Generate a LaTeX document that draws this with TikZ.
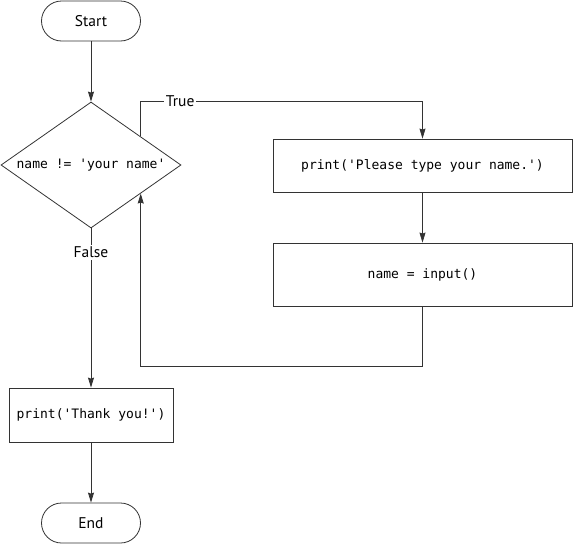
\documentclass[tikz,border=0pt]{standalone}
\usepackage{fontspec}
\setsansfont{PT Sans}
\setmonofont{DejaVu Sans Mono}
\usetikzlibrary{arrows.meta,shapes,calc}

\begin{document}
\begin{tikzpicture}[x=1pt,y=-1pt,>={Stealth[length=10pt,width=6pt,inset=1pt]},line width=0.8pt,draw=black!80,
  terminal/.style={rectangle,rounded corners=20pt,draw=black!80,minimum width=99pt,minimum height=40pt,font=\sffamily\fontsize{15.5}{17}\selectfont},
  decision/.style={diamond,aspect=1.43,draw=black!80,inner sep=0pt,minimum width=180pt,minimum height=126pt,font=\ttfamily\fontsize{13}{15}\selectfont},
  process/.style={rectangle,draw=black!80,font=\ttfamily\fontsize{13}{15}\selectfont},
  tag/.style={fill=white,text=black,inner sep=2pt,font=\sffamily\fontsize{15.5}{17}\selectfont}]
  \useasboundingbox (0,0) rectangle (573,544);
  \node[terminal] (start) at (91, 21) {Start};
  \node[decision] (cond) at (91, 165) {name != 'your name'};
  \node[process,minimum width=299pt,minimum height=53pt] (ask) at (422.5, 165.5) {print('Please type your name.')};
  \node[process,minimum width=299pt,minimum height=63pt] (read) at (422.5, 274.5) {name = input()};
  \node[process,minimum width=164pt,minimum height=54pt] (thanks) at (91, 415) {print('Thank you!')};
  \node[terminal] (end) at (91, 523) {End};
  \coordinate (yes) at ($(cond.north)!0.55!(cond.east)$);
  \coordinate (back) at ($(cond.south)!0.55!(cond.east)$);
  \coordinate (top) at (ask.north |- cond.north);
  \coordinate (low) at ($(read.south)+(0,60)$);
  \draw[->,black!80] (start) -- (cond);
  \draw[->,black!80] (yes) |- node[tag,pos=0.57] {True} (top) -- (ask.north);
  \draw[->,black!80] (ask) -- (read);
  \draw[->,black!80] (read.south) -- (low) -| (back);
  \draw[->,black!80] (cond.south) -- node[tag,pos=0.15] {False} (thanks.north);
  \draw[->,black!80] (thanks) -- (end);
\end{tikzpicture}
\end{document}
